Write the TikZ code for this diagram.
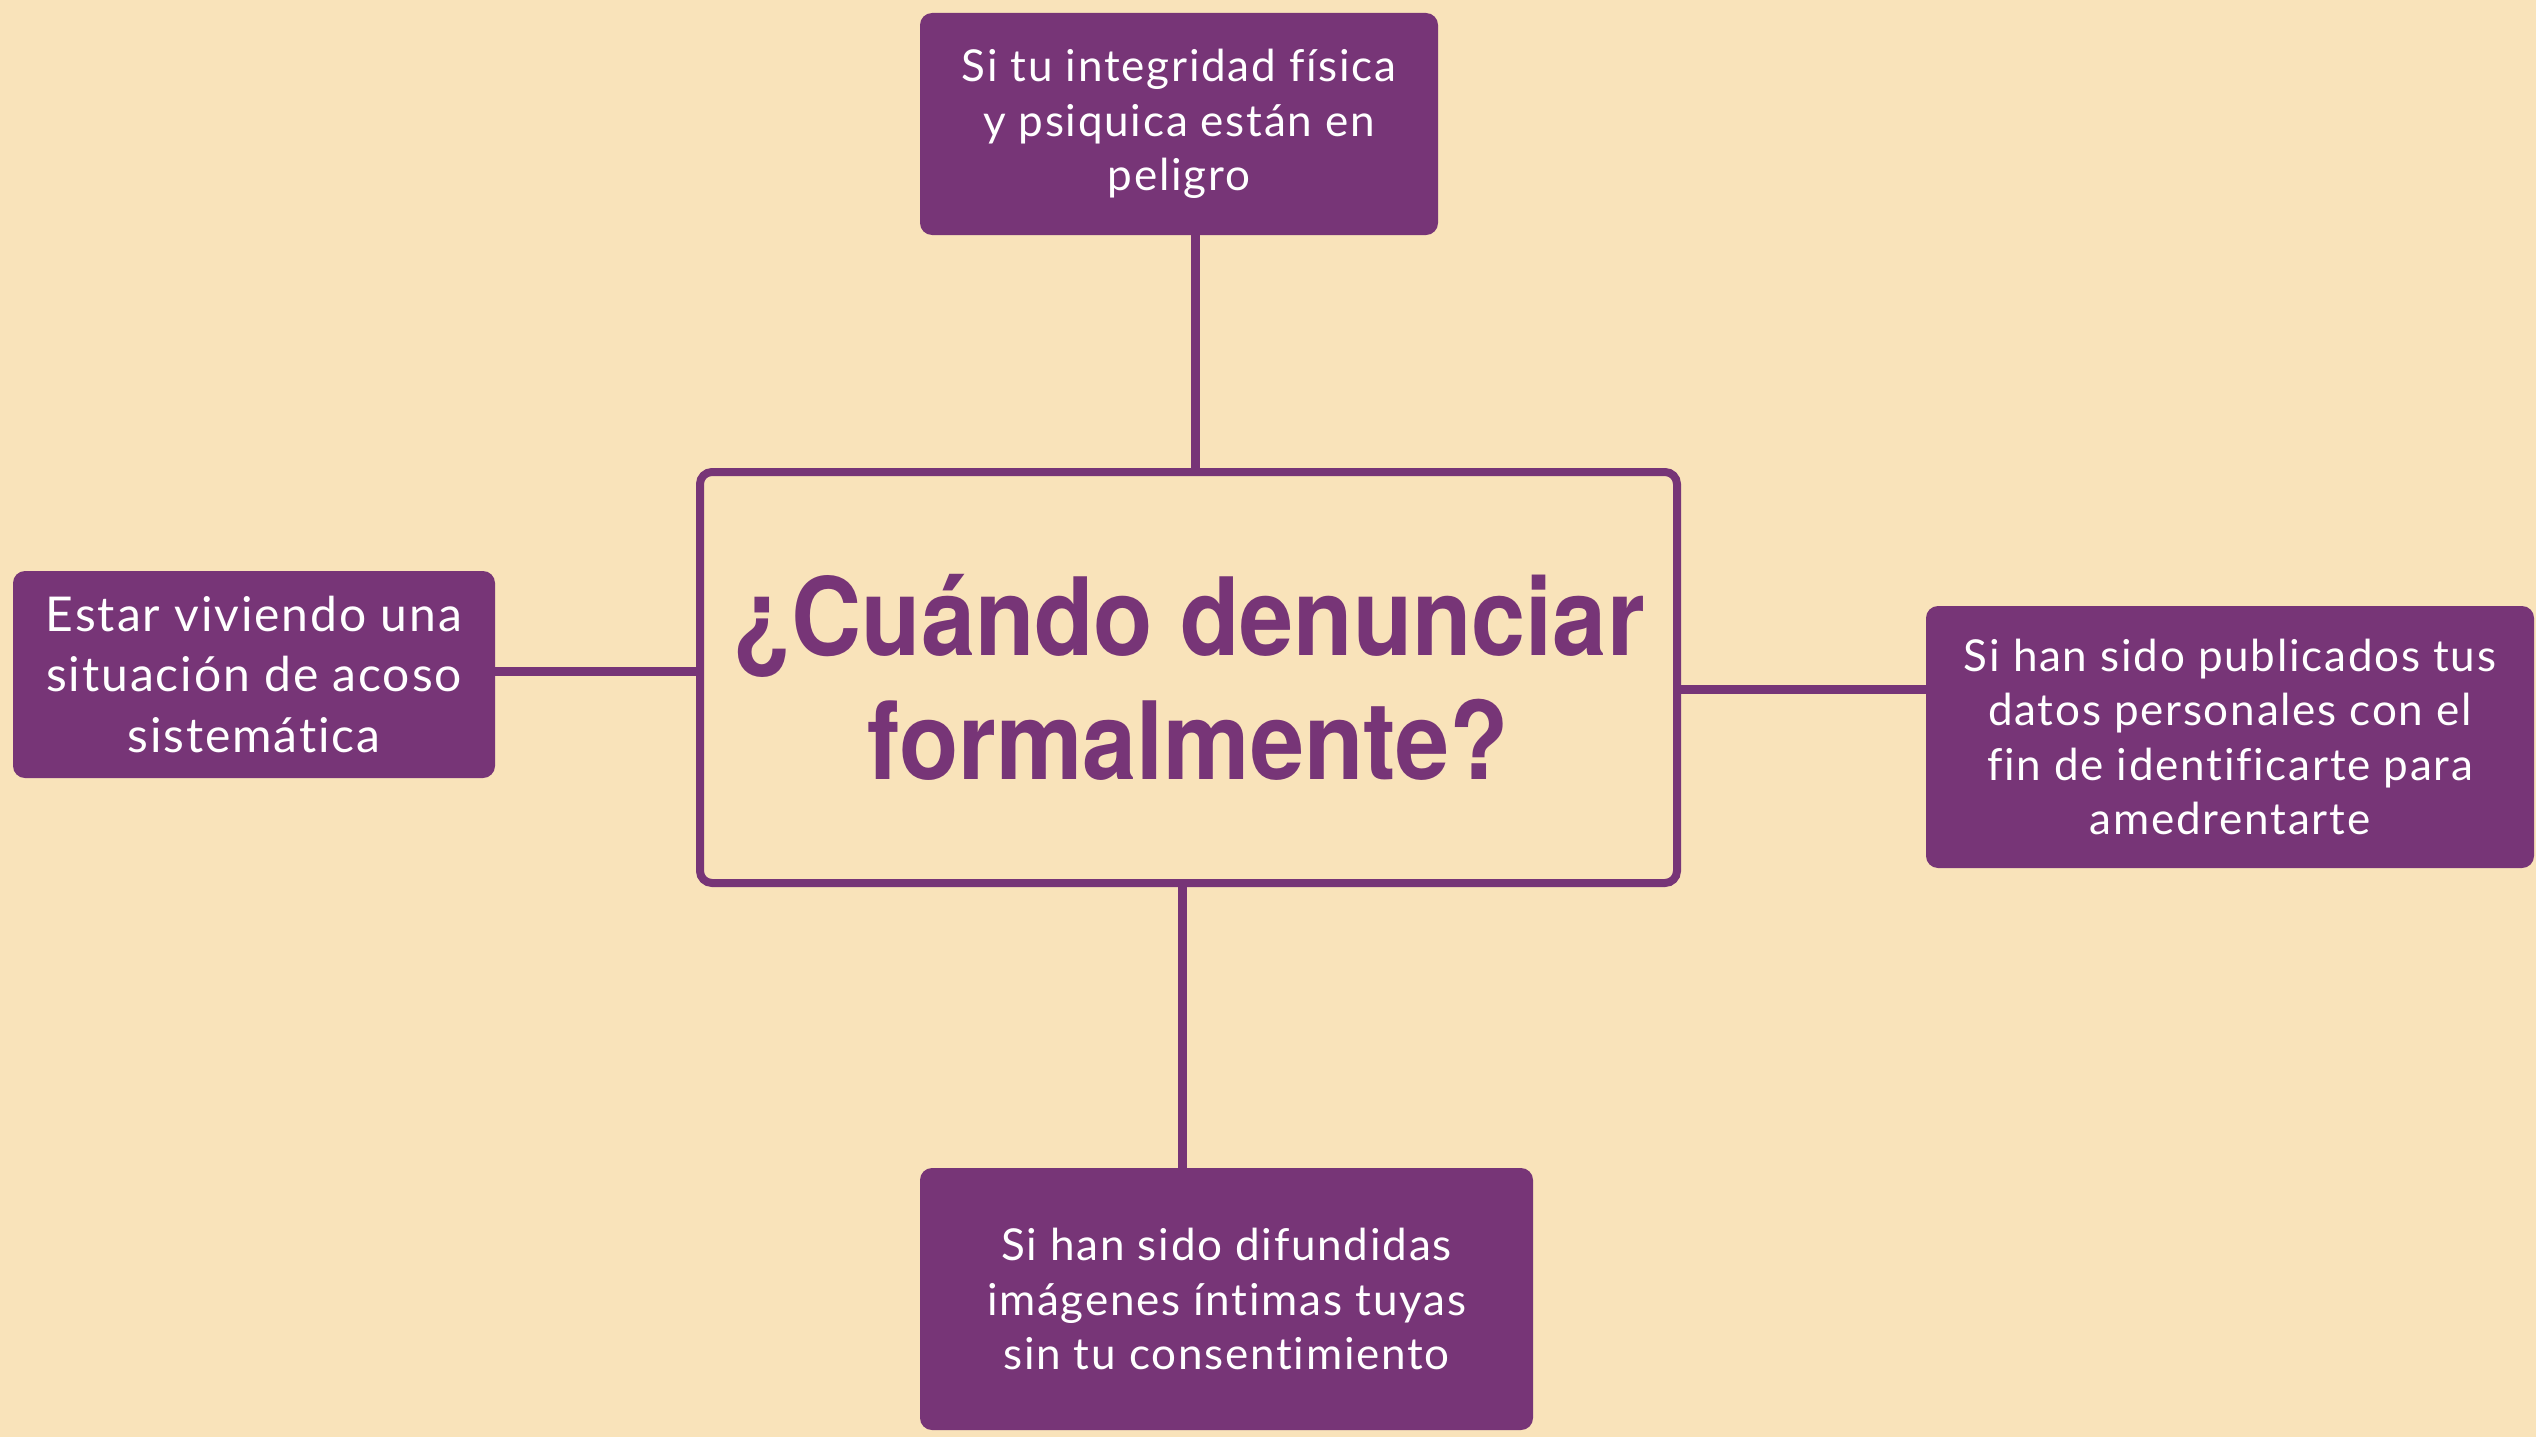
\documentclass[tikz,border=0pt]{standalone}
\usepackage{fontspec}
\setmainfont{Lato}
\newfontfamily\cajafont[LetterSpace=4,Ligatures=NoCommon]{Lato}
\newfontfamily\titulofont[FakeStretch=0.9]{TeX Gyre Heros}
\usetikzlibrary{positioning}
\definecolor{fondo}{RGB}{249,227,186}
\definecolor{morado}{RGB}{119,53,119}
\tikzset{
  caja/.style={fill=morado, text=white, rounded corners=12pt, align=center,
    inner sep=0pt, font=\cajafont\fontsize{44}{54.5}\selectfont},
  central/.style={draw=morado, line width=8pt, rounded corners=12pt, align=center,
    text=morado, font=\titulofont\bfseries\fontsize{108}{124.5}\selectfont},
  enlace/.style={draw=morado, line width=9pt}
}
\begin{document}
\begin{tikzpicture}[x=1pt,y=-1pt]
  %Fondo
  \fill[fondo] (0,0) rectangle (2536,1437);
  \useasboundingbox (0,0) rectangle (2536,1437);
  %Pregunta central
  \node[central, minimum width=977pt, minimum height=411pt] (centro) at (1188.5,677.5)
    {¿Cuándo denunciar\\formalmente?};
  %Casos
  \node[caja, minimum width=518pt, minimum height=222pt] (peligro) at (1179,124)
    {Si tu integridad física\\y psiquica están en\\peligro};
  \node[caja, minimum width=482pt, minimum height=207pt,
    font=\cajafont\fontsize{48}{60.5}\selectfont] (acoso) at (254,674.5)
    {Estar viviendo una\\situación de acoso\\sistemática};
  \node[caja, minimum width=608pt, minimum height=262pt] (datos) at (2230,737)
    {Si han sido publicados tus\\datos personales con el\\fin de identificarte para\\amedrentarte};
  \node[caja, minimum width=613pt, minimum height=262pt] (imagenes) at (1226.5,1299)
    {Si han sido difundidas\\imágenes íntimas tuyas\\sin tu consentimiento};
  %Enlaces
  \draw[enlace] ([xshift=16pt]peligro.south) -- ([xshift=16pt]peligro.south |- centro.north);
  \draw[enlace] ([yshift=3.5pt]acoso.east) -- ([yshift=3.5pt]acoso.east -| centro.west);
  \draw[enlace] ([yshift=48pt]datos.west) -- ([yshift=48pt]datos.west -| centro.east);
  \draw[enlace] ([xshift=-44.5pt]imagenes.north) -- ([xshift=-44.5pt]imagenes.north |- centro.south);
\end{tikzpicture}
\end{document}
